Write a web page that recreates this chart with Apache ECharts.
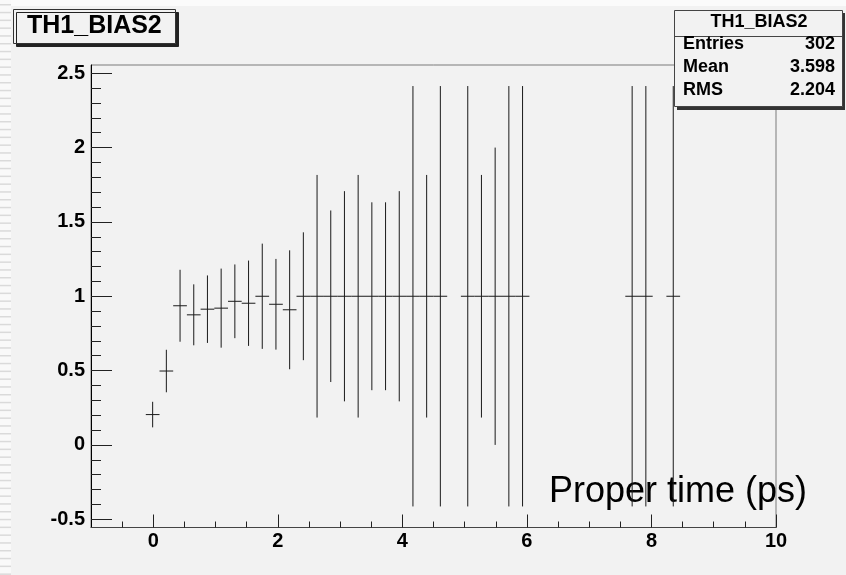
<!DOCTYPE html>
<html>
<head>
<meta charset="utf-8">
<script src="https://cdn.jsdelivr.net/npm/echarts@6/dist/echarts.min.js"></script>
<style>
html,body{margin:0;padding:0;background:#f2f2f2;}
#chart{width:846px;height:575px;}
</style>
</head>
<body>
<div id="chart"></div>
<script>
// ---- data ----
const histName = 'TH1_BIAS2';
const xAxisTitle = 'Proper time (ps)';
const binWidth = 0.22;
const binCenters = [-0.01, 0.21, 0.43, 0.65, 0.87, 1.09, 1.31, 1.53, 1.75, 1.97, 2.19, 2.41, 2.63, 2.85, 3.07, 3.29, 3.51, 3.73, 3.95, 4.17, 4.39, 4.61, 5.05, 5.27, 5.49, 5.71, 5.93, 7.69, 7.91, 8.35];
const ratioValues = [0.204, 0.497, 0.936, 0.875, 0.913, 0.920, 0.966, 0.953, 1.0, 0.946, 0.909, 1.0, 1.0, 1.0, 1.0, 1.0, 1.0, 1.0, 1.0, 1.0, 1.0, 1.0, 1.0, 1.0, 1.0, 1.0, 1.0, 1.0, 1.0, 1.0];
const ratioErrors = [0.086, 0.143, 0.242, 0.205, 0.227, 0.266, 0.248, 0.287, 0.354, 0.305, 0.40, 0.43, 0.816, 0.577, 0.707, 0.816, 0.632, 0.632, 0.707, 1.414, 0.816, 1.414, 1.414, 0.816, 1.0, 1.414, 1.414, 1.414, 1.414, 1.414];
const statsNames = ['Entries', 'Mean', 'RMS'];
const statsValues = ['302', '3.598', '2.204'];
const xMajorTicks = [0, 2, 4, 6, 8, 10];
const xMinorTicks = [-0.5, 0.5, 1, 1.5, 2.5, 3, 3.5, 4.5, 5, 5.5, 6.5, 7, 7.5, 8.5, 9, 9.5];
const yMajorTicks = [-0.5, 0, 0.5, 1, 1.5, 2, 2.5];
const yMinorTicks = [-0.4, -0.3, -0.2, -0.1, 0.1, 0.2, 0.3, 0.4, 0.6, 0.7, 0.8, 0.9, 1.1, 1.2, 1.3, 1.4, 1.6, 1.7, 1.8, 1.9, 2.1, 2.2, 2.3, 2.4];
const xRange = [-1, 10];
const yRange = [-0.5556, 2.5556];

const FONT = 'Liberation Sans, Arial, Helvetica, sans-serif';
const chart = echarts.init(document.getElementById('chart'), null, {renderer: 'canvas'});

// decorative left strip (slide thumbnail edge)
const deco = [
  {type: 'rect', z: 0, shape: {x: 0, y: 0, width: 846, height: 6}, style: {fill: '#fbfbfb'}},
  {type: 'rect', z: 0, shape: {x: 0, y: 0, width: 11, height: 575}, style: {fill: '#f9f9f9'}}
];
for (let yy = 4; yy < 575; yy += 7.8) {
  deco.push({type: 'rect', z: 1, shape: {x: 0, y: yy, width: 11, height: 1.5}, style: {fill: '#dadada'}});
}

const statsChildren = [
  {type: 'rect', shape: {x: 677, y: 13, width: 168, height: 97}, style: {fill: '#333'}},
  {type: 'rect', shape: {x: 674.5, y: 10.5, width: 168, height: 96}, style: {fill: '#f2f2f2', stroke: '#444', lineWidth: 1}},
  {type: 'line', shape: {x1: 674.5, y1: 36.5, x2: 842.5, y2: 36.5}, style: {stroke: '#444', lineWidth: 1}},
  {type: 'text', x: 759, y: 22, style: {text: histName, font: 'bold 18px ' + FONT, fill: '#000', align: 'center', verticalAlign: 'middle'}}
];
statsNames.forEach((n, i) => {
  statsChildren.push({type: 'text', x: 683, y: 44 + i * 22.8, style: {text: n, font: 'bold 18px ' + FONT, fill: '#000', align: 'left', verticalAlign: 'middle'}});
  statsChildren.push({type: 'text', x: 835, y: 44 + i * 22.8, style: {text: statsValues[i], font: 'bold 18px ' + FONT, fill: '#000', align: 'right', verticalAlign: 'middle'}});
});

const option = {
  backgroundColor: '#f2f2f2',
  animation: false,
  title: {
    text: histName,
    left: 13, top: 9,
    padding: [5, 14, 5, 14],
    backgroundColor: '#f2f2f2',
    borderColor: '#333', borderWidth: 1,
    shadowColor: '#222', shadowBlur: 0, shadowOffsetX: 3, shadowOffsetY: 3,
    textStyle: {fontFamily: FONT, fontSize: 25, fontWeight: 'bold', color: '#000'}
  },
  grid: {
    left: 91, right: 70, top: 65, bottom: 47.5,
    show: true, borderColor: '#7a7a7a', borderWidth: 1, backgroundColor: 'transparent',
    containLabel: false, outerBoundsMode: 'none'
  },
  xAxis: [{
    type: 'value', min: xRange[0], max: xRange[1], position: 'bottom',
    axisLine: {show: true, onZero: false, lineStyle: {color: '#444', width: 1}},
    axisTick: {show: true, inside: true, length: 13, customValues: xMajorTicks, lineStyle: {color: '#222'}},
    axisLabel: {customValues: xMajorTicks, fontFamily: FONT, fontSize: 20, fontWeight: 'bold', color: '#000', margin: 4},
    splitLine: {show: false},
    name: xAxisTitle, nameLocation: 'end', nameGap: 31,
    nameTextStyle: {fontFamily: FONT, fontSize: 36, color: '#000', align: 'right', verticalAlign: 'bottom', padding: [0, 0, 17, 0]}
  }, {
    type: 'value', min: xRange[0], max: xRange[1], position: 'bottom',
    axisLine: {show: false, onZero: false},
    axisTick: {show: true, inside: true, length: 6, customValues: xMinorTicks, lineStyle: {color: '#222'}},
    axisLabel: {show: false},
    splitLine: {show: false}
  }],
  yAxis: [{
    type: 'value', min: yRange[0], max: yRange[1], position: 'left',
    axisLine: {show: true, onZero: false, lineStyle: {color: '#000', width: 1}},
    axisTick: {show: true, inside: true, length: 21, customValues: yMajorTicks, lineStyle: {color: '#222'}},
    axisLabel: {customValues: yMajorTicks, fontFamily: FONT, fontSize: 20, fontWeight: 'bold', color: '#000', margin: 6},
    splitLine: {show: false}
  }, {
    type: 'value', min: yRange[0], max: yRange[1], position: 'left',
    axisLine: {show: false, onZero: false},
    axisTick: {show: true, inside: true, length: 10, customValues: yMinorTicks, lineStyle: {color: '#222'}},
    axisLabel: {show: false},
    splitLine: {show: false}
  }],
  graphic: [
    {type: 'group', z: 1, children: deco},
    {type: 'group', z: 100, children: statsChildren}
  ],
  series: [{
    type: 'custom',
    name: histName,
    xAxisIndex: 0, yAxisIndex: 0,
    clip: false,
    data: binCenters.map((x, i) => [x, ratioValues[i], ratioErrors[i]]),
    encode: {x: 0, y: 1},
    renderItem: function (params, api) {
      const x = api.value(0), y = api.value(1), e = api.value(2);
      const c = api.coord([x, y]);
      const top = api.coord([x, y + e]);
      const bot = api.coord([x, y - e]);
      const l = api.coord([x - binWidth / 2, y]);
      const r = api.coord([x + binWidth / 2, y]);
      return {
        type: 'group',
        children: [
          {type: 'line', shape: {x1: c[0], y1: top[1], x2: c[0], y2: bot[1]}, style: {stroke: '#1a1a1a', lineWidth: 1}},
          {type: 'line', shape: {x1: l[0], y1: c[1], x2: r[0], y2: c[1]}, style: {stroke: '#1a1a1a', lineWidth: 1}}
        ]
      };
    }
  }]
};
chart.setOption(option);
</script>
</body>
</html>
